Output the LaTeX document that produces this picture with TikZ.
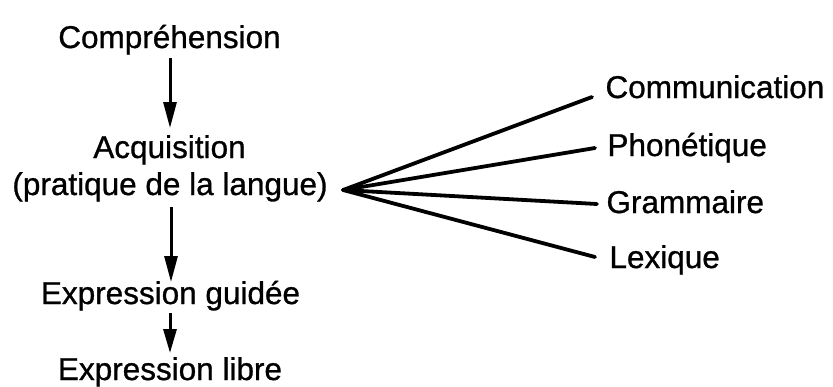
\documentclass[tikz,border=0pt]{standalone}
\usepackage{fontspec}
\setmainfont[FakeBold=0.9]{Liberation Sans}
\usetikzlibrary{arrows.meta,calc}
\begin{document}
\begin{tikzpicture}[x=1pt,y=1pt,
  lbl/.style={inner sep=0pt,outer sep=0pt,font=\fontsize{31.5}{37}\selectfont},
  flow/.style={line width=3pt,-{Triangle[length=26pt,width=13pt]}},
  fanline/.style={line width=3.8pt,line cap=round}]
\useasboundingbox (0,0) rectangle (833,-386);
% left column
\node[lbl,anchor=base] (comp) at (169.5,-48) {Compréhension};
\node[lbl,anchor=base] (acq1) at (169.5,-158) {Acquisition};
\node[lbl,anchor=base] (acq2) at (170,-195) {(pratique de la langue)};
\node[lbl,anchor=base] (expg) at (170.5,-304) {Expression guidée};
\node[lbl,anchor=base] (expl) at (170,-380) {Expression libre};
% right column
\node[lbl,anchor=base west] (comm) at (605.5,-98) {Communication};
\node[lbl,anchor=base west] (phon) at (607.5,-156) {Phonétique};
\node[lbl,anchor=base west] (gram) at (606.5,-213) {Grammaire};
\node[lbl,anchor=base west] (lex) at (609.5,-268) {Lexique};
% arrows
\draw[flow] ($(comp.base)+(0.5,-10)$) -- ($(acq1.base)+(0.5,30)$);
\draw[flow] ($(acq2.base)+(1,-12)$) -- ($(expg.base)+(0.5,22)$);
\draw[flow,-{Triangle[length=24pt,width=13pt]}] ($(expg.base)+(-0.5,-9)$) -- ($(expl.base)+(0,27)$);
% fan
\coordinate (fan) at ($(acq2.base east)+(15.5,5)$);
\draw[fanline] (fan) -- ($(comm.base west)+(-13.5,1)$);
\draw[fanline] (fan) -- ($(phon.base west)+(-12.5,8)$);
\draw[fanline] (fan) -- ($(gram.base west)+(-9.5,9)$);
\draw[fanline] (fan) -- ($(lex.base west)+(-14.5,11)$);
\end{tikzpicture}
\end{document}
